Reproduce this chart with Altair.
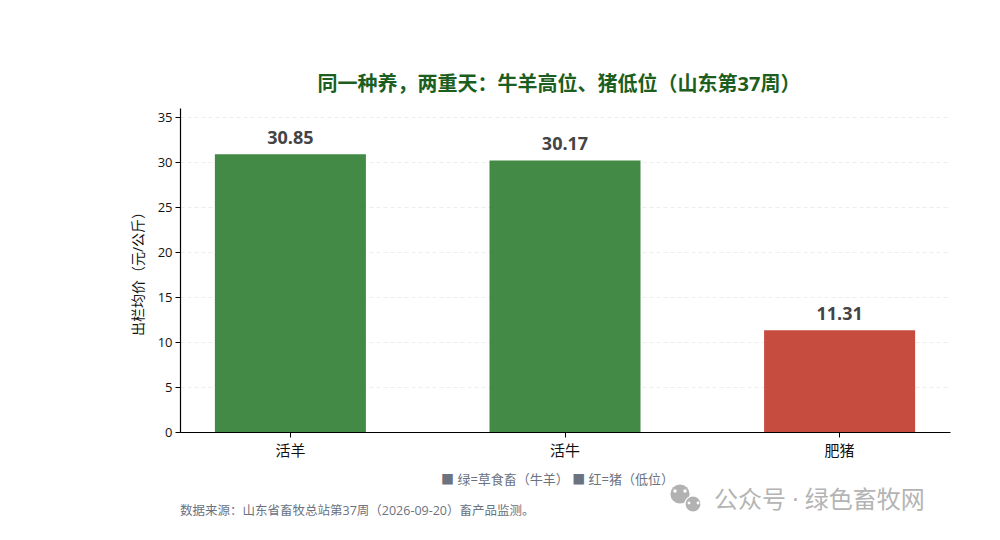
import altair as alt
import pandas as pd

categories = ["活羊", "活牛", "肥猪"]
prices = [30.85, 30.17, 11.31]
colors = ["#2e7d32", "#2e7d32", "#c0392b"]
y_ticks = [0, 5, 10, 15, 20, 25, 30, 35]
title_text = "同一种养，两重天：牛羊高位、猪低位（山东第37周）"
y_title = "出栏均价（元/公斤）"
legend_text = "■ 绿=草食畜（牛羊）   ■ 红=猪（低位）"
source_text = "数据来源：山东省畜牧总站第37周（2026-09-20）畜产品监测。"
watermark_text = "公众号 · 绿色畜牧网"

FONT = ["Open Sans", "Noto Sans CJK SC", "sans-serif"]
FONT_STR = "Open Sans, Noto Sans CJK SC, sans-serif"

df = pd.DataFrame({"cat": categories, "price": prices, "color": colors})

x = alt.X(
    "cat:N",
    sort=categories,
    scale=alt.Scale(paddingInner=0.45, paddingOuter=0.127),
    axis=alt.Axis(
        title=None, labelAngle=0, labelFontSize=15, labelColor="#111111", labelFont=FONT_STR,
        domainColor="#000000", tickColor="#000000", tickSize=5, labelPadding=6, grid=False,
        domainWidth=1.2,
    ),
)
y = alt.Y(
    "price:Q",
    scale=alt.Scale(domain=[0, 36], nice=False),
    axis=alt.Axis(
        title=y_title, values=y_ticks, labelFontSize=13, labelColor="#111111", labelFont=FONT_STR,
        titleFontSize=14, titleFontWeight="normal", titleColor="#111111", titleFont=FONT_STR,
        titlePadding=12, domainColor="#000000", tickColor="#000000", tickSize=5, labelPadding=3,
        grid=True, gridColor="#e8e8e8", gridDash=[4, 3], gridOpacity=0.8, domainWidth=1.2,
    ),
)

bars = alt.Chart(df).mark_bar(opacity=0.9).encode(
    x=x, y=y, color=alt.Color("color:N", scale=None)
)
labels = alt.Chart(df).mark_text(
    dy=-15, fontSize=18, fontWeight="bold", color="#444444", font=FONT_STR
).encode(
    x=alt.X("cat:N", sort=categories), y=alt.Y("price:Q"), text=alt.Text("price:Q", format=".2f")
)


def note(text, px, py, size, color, align="left", weight="normal", opacity=1.0):
    return alt.Chart(pd.DataFrame({"t": [text]})).mark_text(
        align=align, baseline="middle", fontSize=size, color=color, fontWeight=weight,
        font=FONT_STR, opacity=opacity,
    ).encode(x=alt.value(px), y=alt.value(py), text="t:N")


def dot(px, py, size, color):
    return alt.Chart(pd.DataFrame({"a": [0]})).mark_point(
        shape="circle", filled=True, size=size, color=color, opacity=1
    ).encode(x=alt.value(px), y=alt.value(py))


title = note(title_text, 379, -23, 20, "#1b5e20", align="center", weight="bold")
legend = note(legend_text, 261, 372, 13, "#6b7280")
source = note(source_text, 0, 403, 12.5, "#6b7280")
mark = note(watermark_text, 534, 393, 24, "#b4b4b4")
icon = [
    dot(500, 386, 370, "#b2b2b2"),
    dot(513, 396, 230, "#b2b2b2"),
    dot(513, 396, 300, "#ffffff"),
    dot(513, 396, 220, "#b2b2b2"),
    dot(495, 383, 12, "#ffffff"),
    dot(505, 383, 12, "#ffffff"),
    dot(509, 395, 8, "#ffffff"),
    dot(518, 395, 8, "#ffffff"),
]

chart = alt.layer(bars, labels, title, legend, source, mark, *icon).properties(
    width=770,
    height=324,
    autosize=alt.AutoSizeParams(type="none"),
    padding={"left": 172, "top": 100, "right": 30, "bottom": 90},
    background="#ffffff",
).configure_view(stroke=None)

chart.save("out.html", embed_options={"renderer": "svg", "actions": False})
